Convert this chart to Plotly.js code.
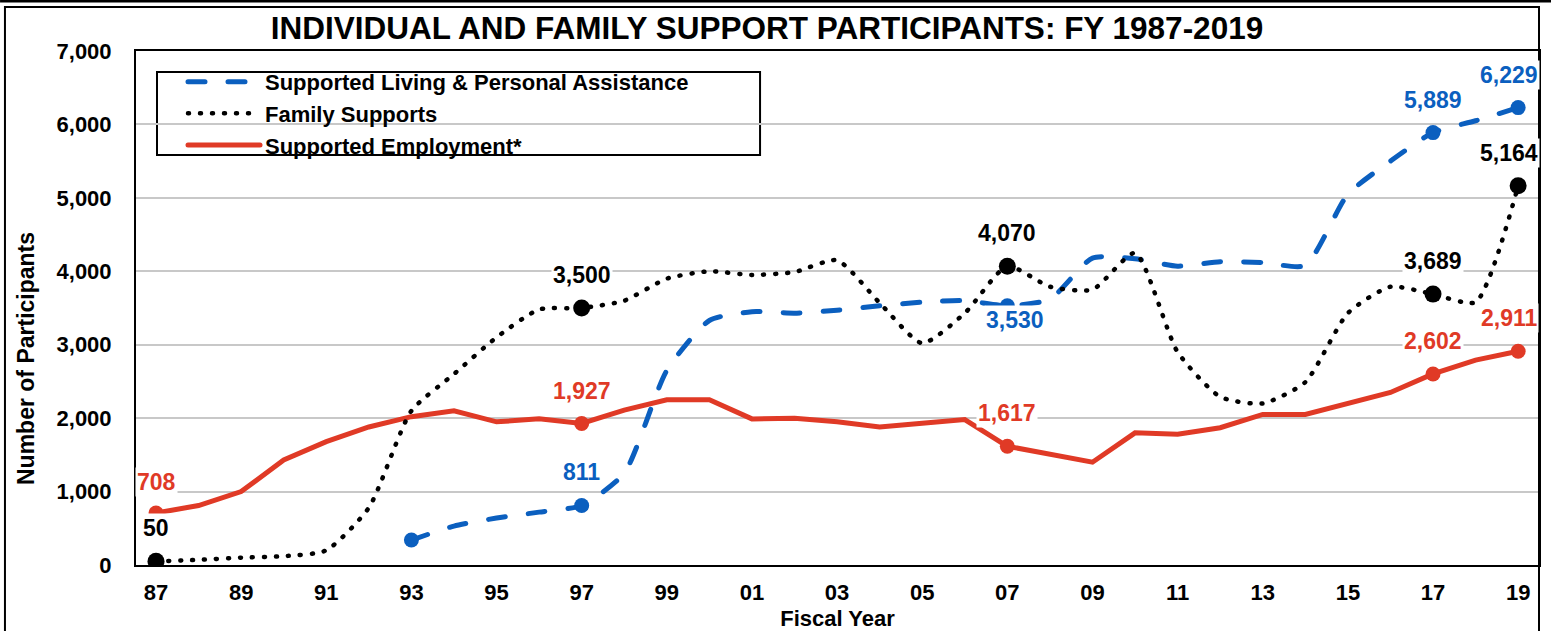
<!DOCTYPE html>
<html><head><meta charset="utf-8">
<script src="https://cdn.plot.ly/plotly-3.0.1.min.js"></script>
<style>
html,body{margin:0;padding:0;background:#fff}
#chart{width:1551px;height:631px}
.js-line{stroke-linecap:round !important}
</style>
</head><body><div id="chart"></div>
<script>
// ---- data ----
const years = [1987,1988,1989,1990,1991,1992,1993,1994,1995,1996,1997,1998,1999,2000,2001,2002,2003,2004,2005,2006,2007,2008,2009,2010,2011,2012,2013,2014,2015,2016,2017,2018,2019];
const employment = [708,810,1000,1430,1680,1880,2020,2100,1950,1990,1927,2110,2250,2250,1990,2000,1950,1880,1930,1980,1617,1510,1400,1800,1780,1870,2050,2050,2200,2350,2602,2790,2911];
const familySupports = [50,70,100,120,200,780,2100,2600,3100,3480,3500,3600,3900,4000,3950,3990,4150,3570,3020,3430,4070,3790,3750,4250,2900,2290,2200,2490,3430,3790,3689,3580,5164];
const livingYears = [1993,1994,1995,1996,1997,1998,1999,2000,2001,2002,2003,2004,2005,2006,2007,2008,2009,2010,2011,2012,2013,2014,2015,2016,2017,2018,2019];
const supportedLiving = [340,530,640,720,811,1250,2650,3330,3450,3430,3470,3530,3580,3600,3530,3620,4180,4170,4070,4130,4120,4080,5050,5500,5889,6050,6229];
const tickYears = [1987,1989,1991,1993,1995,1997,1999,2001,2003,2005,2007,2009,2011,2013,2015,2017,2019];
const tickLabels = ['87','89','91','93','95','97','99','01','03','05','07','09','11','13','15','17','19'];
const livingMarkerYears = [1993,1997,2007,2017,2019];
const keyYears = [1987,1997,2007,2017,2019];
const livingLabelYears = [1997,2007,2017,2019];

const names = ['Supported Living & Personal Assistance','Family Supports','Supported Employment*'];
const BLUE = '#0b5fbf', RED = '#e03a26', BLACK = '#000000';
const FONT = 'Liberation Sans, Arial, sans-serif';

function pick(xs, ys, sel){
  const x=[], y=[];
  xs.forEach((v,i)=>{ if(sel.includes(v)){ x.push(v); y.push(ys[i]); } });
  return {x, y};
}

const empM = pick(years, employment, keyYears);
const famM = pick(years, familySupports, keyYears);
const livM = pick(livingYears, supportedLiving, livingMarkerYears);

const traces = [
  {x: years, y: employment, mode:'lines', name: names[2], legendrank: 3,
   line:{color:RED, width:5}},
  {x: livingYears, y: supportedLiving, mode:'lines', name: names[0], legendrank: 1,
   line:{color:BLUE, width:5, dash:'17px,23px', shape:'spline', smoothing:0.6}},
  {x: years, y: familySupports, mode:'lines', name: names[1], legendrank: 2,
   line:{color:BLACK, width:4.5, dash:'1px,11px', shape:'spline', smoothing:0.6}},
  {x: empM.x, y: empM.y, mode:'markers', showlegend:false, marker:{color:RED, size:15}},
  {x: livM.x, y: livM.y, mode:'markers', showlegend:false, marker:{color:BLUE, size:15}},
  {x: famM.x, y: famM.y, mode:'markers', showlegend:false, marker:{color:BLACK, size:17}}
];

// data labels built from the arrays
const annotations = [];
function addLabels(xs, ys, sel, color, special){
  xs.forEach((v,i)=>{
    if(!sel.includes(v)) return;
    let a = {x:v, y:ys[i], xref:'x', yref:'y', showarrow:false,
      text: ys[i].toLocaleString('en-US'),
      font:{family:FONT, size:23, color:color, weight:'bold'},
      bgcolor:'#ffffff', borderpad:1, yshift:33, xshift: v===2019 ? -9 : 0};
    if(special && special[v]) Object.assign(a, special[v]);
    annotations.push(a);
  });
}
addLabels(livingYears, supportedLiving, livingLabelYears, BLUE, {2007:{yshift:-14, xshift:8}});
addLabels(years, employment, keyYears, RED, {1987:{yshift:31}});
addLabels(years, familySupports, keyYears, BLACK, null);

// y-axis title as rotated text
annotations.push({text:'Number of Participants', xref:'paper', yref:'paper', x:-0.0784, y:0.4008,
  xanchor:'center', yanchor:'middle',
  textangle:-90, showarrow:false, font:{family:FONT, size:23, color:BLACK, weight:'bold'}});

const layout = {
  width:1551, height:631,
  margin:{l:136, r:12, t:51, b:66},
  paper_bgcolor:'#ffffff', plot_bgcolor:'#ffffff',
  font:{family:FONT, color:BLACK},
  title:{text:'INDIVIDUAL AND FAMILY SUPPORT PARTICIPANTS: FY 1987-2019',
    font:{family:FONT, size:31.5, color:BLACK, weight:'bold'},
    xref:'container', x:0.4945, xanchor:'center', yref:'container', y:0.9556, yanchor:'middle'},
  xaxis:{range:[1986.53, 2019.49], tickvals:tickYears, ticktext:tickLabels,
    tickfont:{family:FONT, size:22, color:BLACK, weight:'bold'},
    showgrid:false, zeroline:false, showline:true, linecolor:BLACK, linewidth:2, mirror:true,
    ticks:'', ticklabelstandoff:7,
    title:{text:'Fiscal Year', font:{family:FONT, size:22, color:BLACK, weight:'bold'}, standoff:8}},
  yaxis:{range:[0,7000], dtick:1000, tick0:0, tickformat:',',
    tickfont:{family:FONT, size:22, color:BLACK, weight:'bold'},
    showgrid:true, gridcolor:'#c8c8c8', gridwidth:2, zeroline:false,
    showline:true, linecolor:BLACK, linewidth:2, mirror:true, ticks:'', ticklabelstandoff:18},
  legend:{x:0.0335, y:0.9806, xanchor:'left', yanchor:'top', bgcolor:'rgba(0,0,0,0)', borderwidth:0,
    itemwidth:72, font:{family:FONT, size:22, color:BLACK, weight:'bold'}},
  shapes:[
    {type:'rect', xref:'paper', yref:'paper', x0:0.01497, x1:0.4448, y0:0.7977, y1:0.9591,
     layer:'between', fillcolor:'#ffffff', line:{color:BLACK, width:2}},
    {type:'rect', xref:'paper', yref:'paper', x0:-0.0934, x1:1.0, y0:-0.146, y1:1.0856,
     layer:'above', fillcolor:'rgba(0,0,0,0)', line:{color:BLACK, width:2}},
    {type:'line', xref:'paper', yref:'paper', x0:-0.0969, x1:1.0086, y0:1.0973, y1:1.0973,
     layer:'above', line:{color:BLACK, width:3}}
  ],
  annotations: annotations,
  showlegend:true
};

Plotly.newPlot('chart', traces, layout, {displayModeBar:false, staticPlot:true});
</script>
</body></html>
